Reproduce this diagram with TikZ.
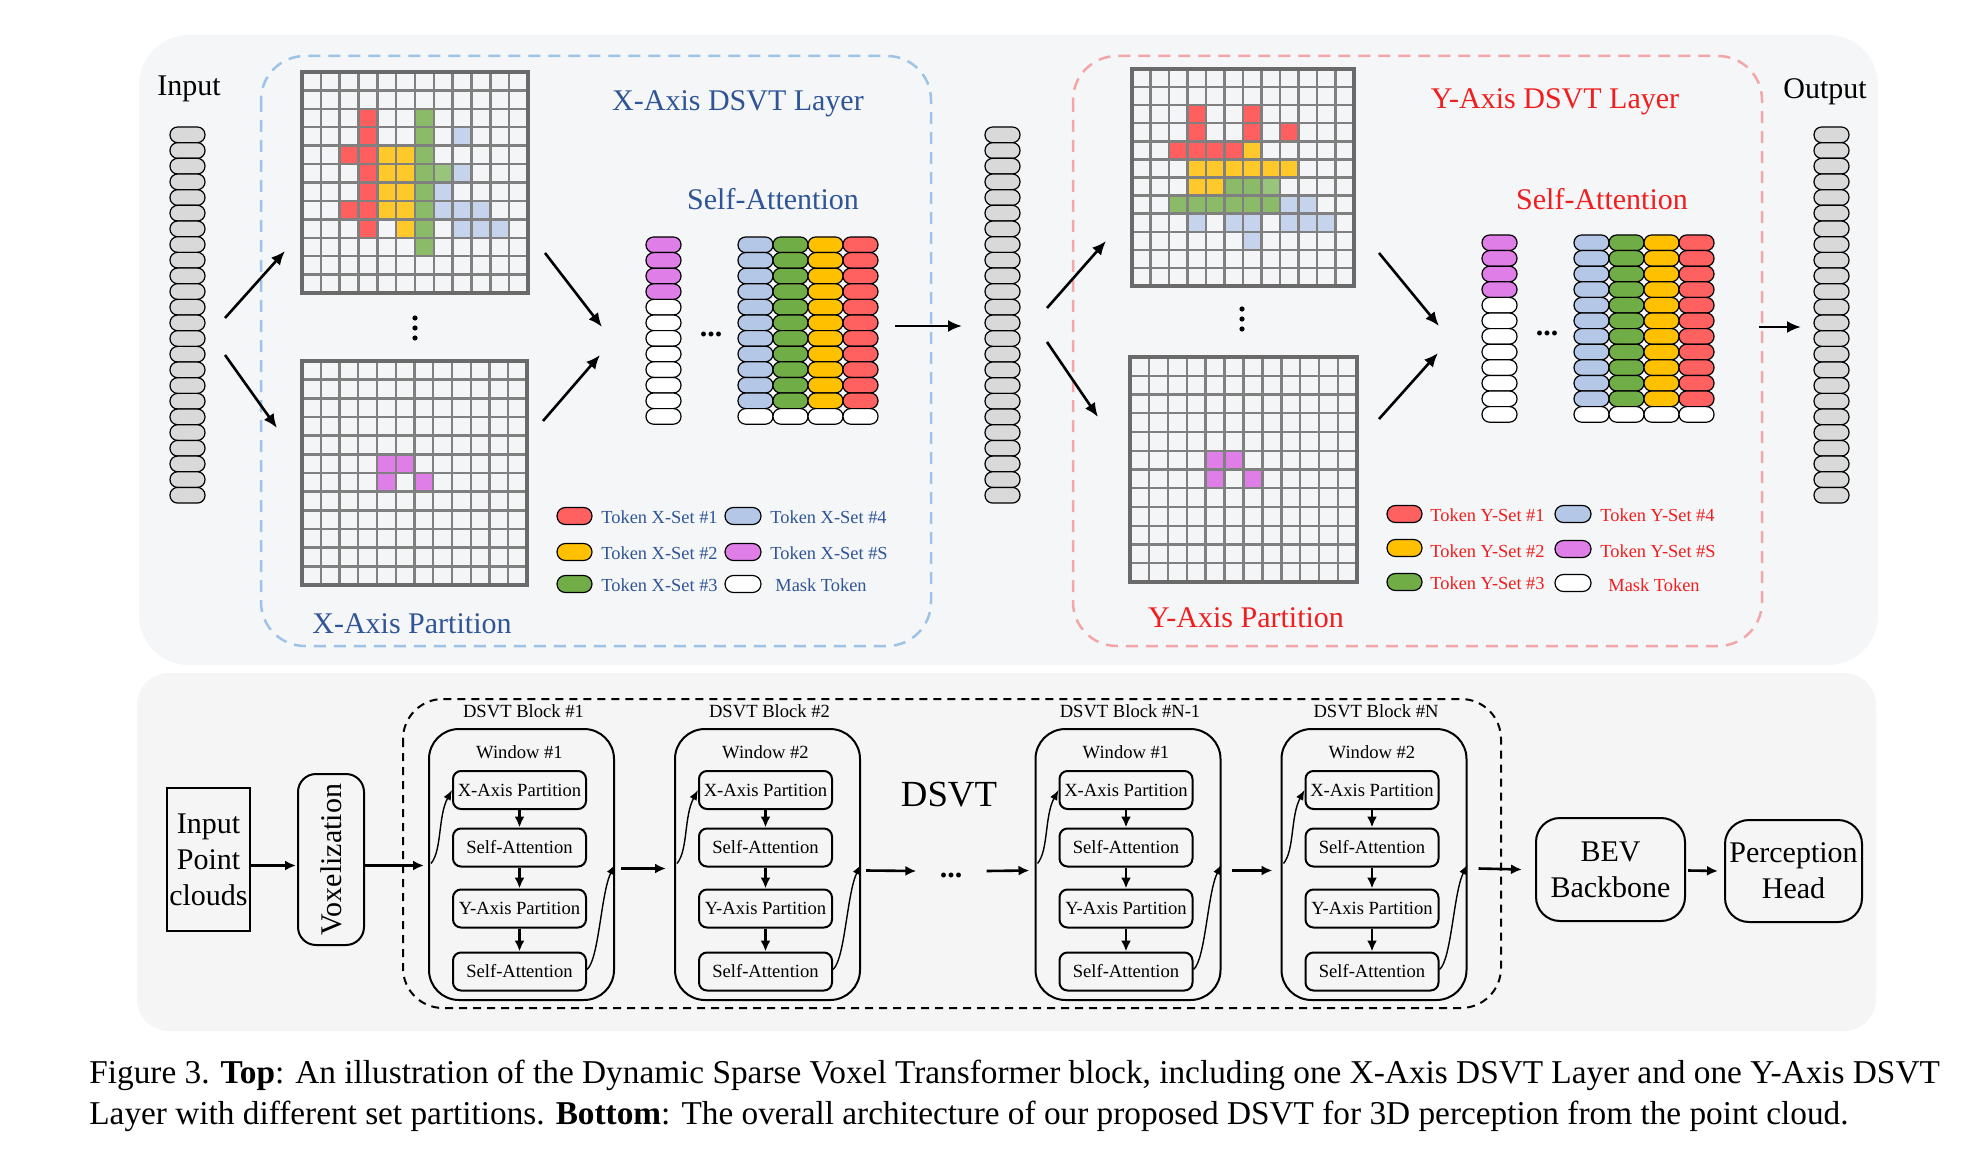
\documentclass[tikz,border=0pt]{standalone}
\usepackage{fontspec}
\setmainfont{Liberation Serif}
\usetikzlibrary{arrows.meta,calc}
\definecolor{gred}{HTML}{FF5F5F}
\definecolor{gyel}{HTML}{FFC92C}
\definecolor{ggreen}{HTML}{8BBA68}
\definecolor{glgreen}{HTML}{98C47B}
\definecolor{gblue}{HTML}{C5D4EC}
\definecolor{gmag}{HTML}{E07EE8}
\definecolor{tred}{HTML}{FF6060}
\definecolor{tyel}{HTML}{FFC000}
\definecolor{tgreen}{HTML}{70AD47}
\definecolor{tblue}{HTML}{B4C7E7}
\definecolor{gridbg}{HTML}{F4F5F7}
\definecolor{gridln}{HTML}{808080}
\definecolor{gridbd}{HTML}{6A6A6A}
\definecolor{inpgray}{HTML}{D9D9D9}
\definecolor{toppanel}{HTML}{F5F6F8}
\definecolor{botpanel}{HTML}{F5F5F5}
\definecolor{xblue}{HTML}{2F5597}
\definecolor{yred}{HTML}{F01E1E}
\definecolor{xdashc}{HTML}{9DC3E6}
\definecolor{ydashc}{HTML}{F4A6A6}
\newcommand\mygrid[5]{%
  \fill[gridbg] (#1,#2) rectangle (#3,#4);
  \pgfmathsetmacro\cw{(#3-#1)/12}
  \pgfmathsetmacro\ch{(#4-#2)/12}
  \foreach \r/\c/\col in {#5} {\fill[\col] ({#1+\c*\cw},{#2+\r*\ch}) rectangle ++(\cw,\ch);}
  \foreach \i in {1,...,11} {%
    \draw[gridln,line width=1.2pt] ({#1+\i*\cw},#2) -- ({#1+\i*\cw},#4);
    \draw[gridln,line width=1.2pt] (#1,{#2+\i*\ch}) -- (#3,{#2+\i*\ch});}
  \draw[gridbd,line width=2pt] (#1,#2) rectangle (#3,#4);
}
\begin{document}
\begin{tikzpicture}[x=0.5pt,y=-0.5pt,
  pill/.style={draw=black,line width=0.6pt,rounded corners=3.8pt},
  toparrow/.style={line width=1.3pt,-{Latex[length=7pt,width=6pt]}},
  barrow/.style={line width=1.3pt,-{Latex[length=5.5pt,width=5pt]}},
  carrow/.style={line width=0.7pt,-{Latex[length=5pt,width=4pt]}},
  bigtxt/.style={font=\fontsize{15}{18}\selectfont,inner sep=0pt},
  smtxt/.style={font=\fontsize{9.3}{11}\selectfont,inner sep=0pt},
  legtxt/.style={font=\fontsize{9.2}{11}\selectfont,inner sep=0pt,anchor=west},
  winbox/.style={draw,line width=1pt,rounded corners=15pt,minimum width=92.5pt,minimum height=135.5pt},
  inbox/.style={draw,line width=1pt,rounded corners=4pt,minimum width=66.5pt,minimum height=19pt,font=\fontsize{9.3}{11}\selectfont,inner sep=0pt},
  rbox/.style={draw,line width=1pt,rounded corners=12pt,font=\fontsize{15}{18}\selectfont,align=center,inner sep=0pt}]
\useasboundingbox (0,0) rectangle (1986,1150);
\fill[white] (0,0) rectangle (1986,1150);
% panels
\fill[toppanel,rounded corners=25pt] (139,35) rectangle (1878,665);
\fill[botpanel,rounded corners=16pt] (137,673) rectangle (1876,1031);
\draw[xdashc,line width=1.25pt,dash pattern=on 6pt off 4pt,rounded corners=22pt] (261,56) rectangle (931,646);
\draw[ydashc,line width=1.25pt,dash pattern=on 6pt off 4pt,rounded corners=22pt] (1073,56) rectangle (1762,646);
% token columns (input / middle / output)
\foreach \i in {0,...,23} {
  \draw[pill,fill=inpgray] (170,{127+\i*15.67}) rectangle ++(35,15.67);
  \draw[pill,fill=inpgray] (985,{127+\i*15.67}) rectangle ++(35,15.67);
  \draw[pill,fill=inpgray] (1814,{127+\i*15.67}) rectangle ++(35,15.67);}
% grids
\mygrid{302}{72}{528}{293}{2/3/gred,2/6/ggreen,3/3/gred,3/6/ggreen,3/8/gblue,4/2/gred,4/3/gred,4/4/gyel,4/5/gyel,4/6/ggreen,5/3/gred,5/4/gyel,5/5/gyel,5/6/ggreen,5/7/glgreen,5/8/gblue,6/3/gred,6/4/gyel,6/5/gyel,6/6/ggreen,6/7/gblue,7/2/gred,7/3/gred,7/4/gyel,7/5/gyel,7/6/ggreen,7/7/gblue,7/8/gblue,7/9/gblue,8/3/gred,8/5/gyel,8/6/ggreen,8/8/gblue,8/9/gblue,8/10/gblue,9/6/ggreen}
\mygrid{302}{361}{527}{585}{5/4/gmag,5/5/gmag,6/4/gmag,6/6/gmag}
\mygrid{1132}{69}{1354}{286}{2/3/gred,2/6/gred,3/3/gred,3/6/gred,3/8/gred,4/2/gred,4/3/gred,4/4/gred,4/5/gred,4/6/gyel,5/3/gyel,5/4/gyel,5/5/gyel,5/6/gyel,5/7/gyel,5/8/gyel,6/3/gyel,6/4/gyel,6/5/ggreen,6/6/ggreen,6/7/glgreen,7/2/ggreen,7/3/ggreen,7/4/ggreen,7/5/ggreen,7/6/ggreen,7/7/ggreen,7/8/gblue,7/9/gblue,8/3/gblue,8/5/gblue,8/6/gblue,8/8/gblue,8/9/gblue,8/10/gblue,9/6/gblue}
\mygrid{1130}{357}{1357}{582}{5/4/gmag,5/5/gmag,6/4/gmag,6/6/gmag}
% vertical dots
\foreach \yy in {318,328,338} \fill (415,\yy) circle (2.6);
\foreach \yy in {309,319,329} \fill (1242,\yy) circle (2.6);
% self-attention token groups
\foreach \i in {0,...,3} {\draw[pill,fill=gmag] (646,{237+\i*15.6}) rectangle ++(35,15.6);
  \draw[pill,fill=gmag] (1482,{235+\i*15.6}) rectangle ++(35,15.6);}
\foreach \i in {4,...,11} {\draw[pill,fill=white] (646,{237+\i*15.6}) rectangle ++(35,15.6);
  \draw[pill,fill=white] (1482,{235+\i*15.6}) rectangle ++(35,15.6);}
\foreach \c/\col in {0/tblue,1/tgreen,2/tyel,3/tred} {
  \foreach \i in {0,...,10} {
    \draw[pill,fill=\col] ({738+\c*35},{237+\i*15.6}) rectangle ++(35,15.6);
    \draw[pill,fill=\col] ({1574+\c*35},{235+\i*15.6}) rectangle ++(35,15.6);}
  \draw[pill,fill=white] ({738+\c*35},{237+11*15.6}) rectangle ++(35,15.6);
  \draw[pill,fill=white] ({1574+\c*35},{235+11*15.6}) rectangle ++(35,15.6);}
\node[bigtxt] (xdots) at (711,334) {\textbf{...}};
\node[bigtxt] (ydots) at (1547,333) {\textbf{...}};
% titles
\node[bigtxt] (inlbl) at (189,89) {Input};
\node[bigtxt] (outlbl) at (1825,92) {Output};
\node[bigtxt,text=xblue] (xtitle) at (738,104) {X-Axis DSVT Layer};
\node[bigtxt,text=xblue] (xsa) at (773,199) {Self-Attention};
\node[bigtxt,text=xblue] (xpart) at (412,624) {X-Axis Partition};
\node[bigtxt,text=yred] (ytitle) at (1555,102) {Y-Axis DSVT Layer};
\node[bigtxt,text=yred] (ysa) at (1602,199) {Self-Attention};
\node[bigtxt,text=yred] (ypart) at (1246,618) {Y-Axis Partition};
% legends X
\foreach \yy/\col in {516/tred,552/tyel,584/tgreen} \draw[pill,fill=\col,rounded corners=4.2pt] (557,{\yy-8.5}) rectangle ++(35,17);
\foreach \yy/\col in {516/tblue,552/gmag,584/white} \draw[pill,fill=\col,rounded corners=4.2pt] (725,{\yy-8.5}) rectangle ++(36,17);
\node[legtxt,text=xblue] (xl1) at (601,517) {Token X-Set \#1};
\node[legtxt,text=xblue] (xl2) at (601,553) {Token X-Set \#2};
\node[legtxt,text=xblue] (xl3) at (601,585) {Token X-Set \#3};
\node[legtxt,text=xblue] (xl4) at (770,517) {Token X-Set \#4};
\node[legtxt,text=xblue] (xl5) at (770,553) {Token X-Set \#S};
\node[legtxt,text=xblue] (xl6) at (775,585) {Mask Token};
% legends Y
\foreach \yy/\col in {514/tred,548/tyel,582/tgreen} \draw[pill,fill=\col,rounded corners=4.2pt] (1387,{\yy-8.5}) rectangle ++(35,17);
\foreach \yy/\col in {514/tblue,549/gmag,583/white} \draw[pill,fill=\col,rounded corners=4.2pt] (1555,{\yy-8.5}) rectangle ++(36,17);
\node[legtxt,text=yred] (yl1) at (1430,515) {Token Y-Set \#1};
\node[legtxt,text=yred] (yl2) at (1430,551) {Token Y-Set \#2};
\node[legtxt,text=yred] (yl3) at (1430,583) {Token Y-Set \#3};
\node[legtxt,text=yred] (yl4) at (1600,515) {Token Y-Set \#4};
\node[legtxt,text=yred] (yl5) at (1600,551) {Token Y-Set \#S};
\node[legtxt,text=yred] (yl6) at (1608,585) {Mask Token};
% top arrows
\coordinate (a1s) at (225,318); \coordinate (a1e) at (285,251);
\coordinate (a2s) at (225,355); \coordinate (a2e) at (277,428);
\coordinate (a3s) at (545,253); \coordinate (a3e) at (602,327);
\coordinate (a4s) at (543,421); \coordinate (a4e) at (600,355);
\coordinate (a5s) at (895,326); \coordinate (a5e) at (962,326);
\coordinate (a6s) at (1047,308); \coordinate (a6e) at (1106,241);
\coordinate (a7s) at (1047,342); \coordinate (a7e) at (1098,417);
\coordinate (a8s) at (1379,253); \coordinate (a8e) at (1439,326);
\coordinate (a9s) at (1379,419); \coordinate (a9e) at (1438,353);
\coordinate (a10s) at (1759,327); \coordinate (a10e) at (1801,327);
\foreach \k in {1,...,10} \draw[toparrow] (a\k s) -- (a\k e);
% ---------------- bottom -----------------
\draw[line width=1pt,dash pattern=on 4pt off 3pt,rounded corners=20pt] (403,699) rectangle (1501,1008);
\node[draw,line width=1pt,minimum width=41.5pt,minimum height=71.5pt,align=center,inner sep=0pt,font=\fontsize{15}{18}\selectfont] (inp) at (208.5,859.5) {Input\\Point\\clouds};
\node[draw,line width=1pt,rounded corners=9pt,minimum width=33pt,minimum height=85.5pt,inner sep=0pt] (vox) at (331,859.5) {};
\node[bigtxt,rotate=90] (voxt) at (vox.center) {Voxelization};
\foreach \n/\cx/\blk/\win in {1/521.5/\#1/\#1,2/767.5/\#2/\#2,3/1128/\#N-1/\#1,4/1374/\#N/\#2} {
  \node[winbox] (w\n) at (\cx,864.5) {};
  \node[smtxt] (b\n) at (\cx+2,711) {DSVT Block \blk};
  \node[smtxt] (wl\n) at (\cx-2,752) {Window \win};
  \node[inbox] (w\n a) at (\cx-2,790) {X-Axis Partition};
  \node[inbox] (w\n b) at (\cx-2,847.5) {Self-Attention};
  \node[inbox] (w\n c) at (\cx-2,908.5) {Y-Axis Partition};
  \node[inbox] (w\n d) at (\cx-2,971.5) {Self-Attention};
  \draw[barrow] (w\n a) -- (w\n b);
  \draw[barrow] (w\n b) -- (w\n c);
  \draw[barrow] (w\n c) -- (w\n d);
  \draw[carrow] ($(w\n.west)+(3,-1)$) .. controls ($(w\n.west)+(14,-14)$) and ($(w\n a.west)+(-14,26)$) .. (w\n a.west);
  \draw[carrow] ($(w\n d.east)+(0,-2)$) .. controls ($(w\n d.east)+(12,-12)$) and ($(w\n.east)+(-14,28)$) .. (w\n.east);
}
\node[font=\fontsize{18.4}{22}\selectfont,inner sep=0pt] (dsvt) at (949,795) {DSVT};
\node[bigtxt] (bdots) at (951,875) {\textbf{...}};
\node[rbox,minimum width=74.5pt,minimum height=51.5pt] (bev) at (1610.5,869.5) {BEV\\Backbone};
\node[rbox,minimum width=68.5pt,minimum height=51pt] (head) at (1793.5,871) {Perception\\Head};
\draw[barrow] ($(inp.east)+(0,6)$) -- ($(vox.west)+(-1,6)$);
\draw[barrow] ($(vox.east)+(0,6)$) -- ($(w1.west)+(-4,1)$);
\draw[barrow] ($(w1.east)+(6,4)$) -- ($(w2.west)+(-8,4)$);
\draw[barrow] ($(w2.east)+(5,6)$) -- ($(bdots.west)+(-23,-4)$);
\draw[barrow] ($(bdots.east)+(24,-4)$) -- ($(w3.west)+(-5,6)$);
\draw[barrow] ($(w3.east)+(10,6)$) -- ($(w4.west)+(-8,6)$);
\draw[barrow] ($(w4.east)+(11,4)$) -- ($(bev.west)+(-13,0)$);
\draw[barrow] ($(bev.east)+(2,1)$) -- ($(head.west)+(-6,0)$);
% caption
\node[anchor=west,inner sep=0pt,font=\fontsize{16.65}{20}\selectfont] (cap1) at (89,1075) {Figure 3. \textbf{Top}: An illustration of the Dynamic Sparse Voxel Transformer block, including one X-Axis DSVT Layer and one Y-Axis DSVT};
\node[anchor=west,inner sep=0pt,font=\fontsize{16.65}{20}\selectfont] (cap2) at (89,1116) {Layer with different set partitions. \textbf{Bottom}: The overall architecture of our proposed DSVT for 3D perception from the point cloud.};
\end{tikzpicture}
\end{document}
